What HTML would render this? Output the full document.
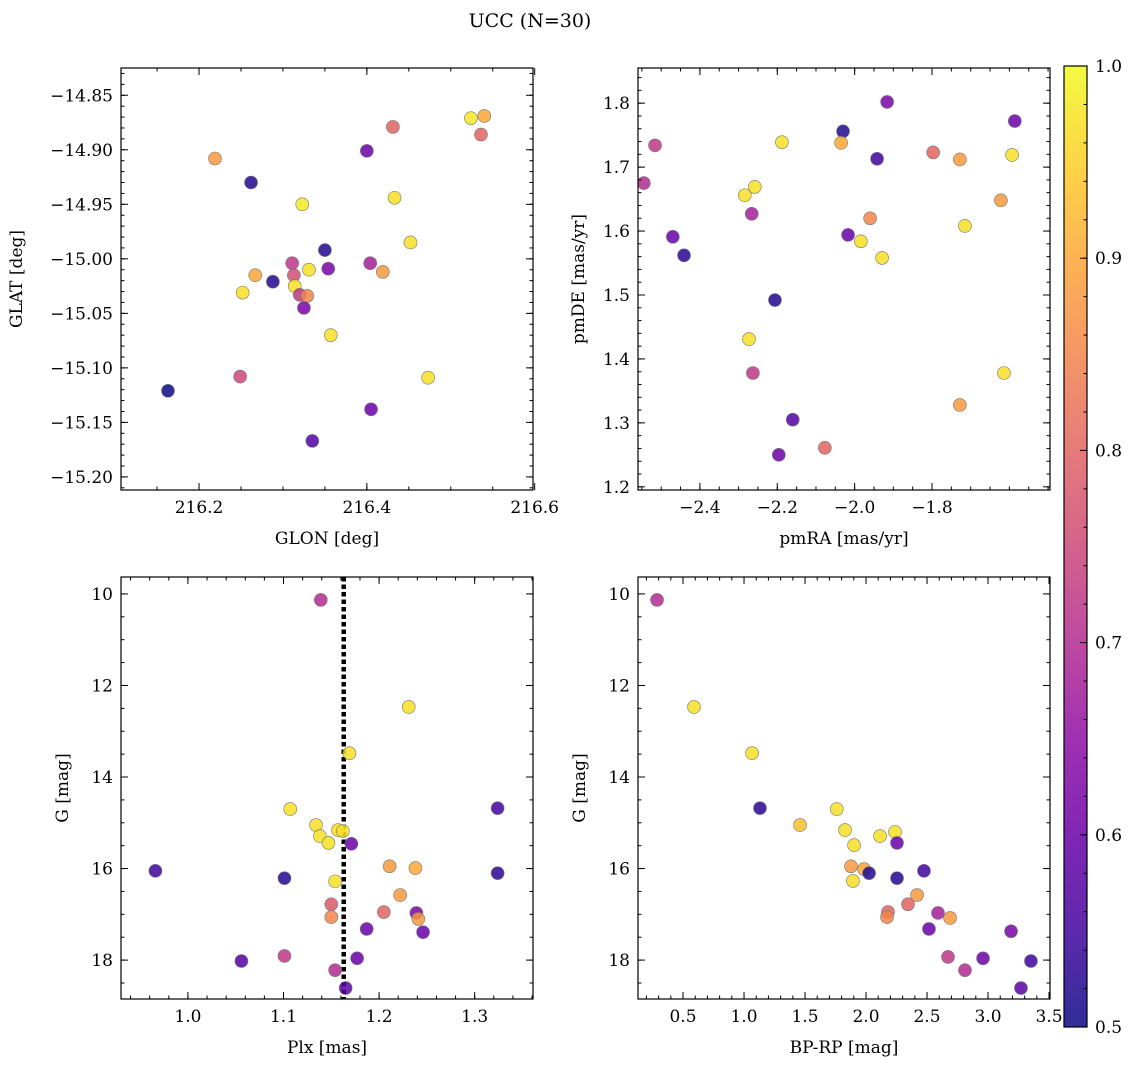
<!DOCTYPE html>
<html><head><meta charset="utf-8"><style>
body{margin:0;background:#fff;}
svg{display:block;font-family:"DejaVu Serif","Liberation Serif",serif;}
</style></head><body>
<svg id="fig" width="1136" height="1067" xmlns="http://www.w3.org/2000/svg">
<defs><linearGradient id="plasma" x1="0" y1="1" x2="0" y2="0">
<stop offset="0" stop-color="#0d0887"/><stop offset="0.1" stop-color="#41049d"/><stop offset="0.2" stop-color="#6a00a8"/><stop offset="0.3" stop-color="#8f0da4"/><stop offset="0.4" stop-color="#b12a90"/><stop offset="0.5" stop-color="#cc4778"/><stop offset="0.6" stop-color="#e16462"/><stop offset="0.7" stop-color="#f2844b"/><stop offset="0.8" stop-color="#fca636"/><stop offset="0.9" stop-color="#fcce25"/><stop offset="1" stop-color="#f0f921"/>
</linearGradient></defs>
<text x="530" y="27" font-size="19" text-anchor="middle">UCC (N=30)</text>
</svg>
<script>
// Panel 1: GLON vs GLAT
const glon=[216.219,216.262,216.323,216.431,216.400,216.524,216.540,216.536,216.433,216.452,216.350,216.311,216.313,216.331,216.354,216.404,216.419,216.267,216.252,216.288,216.314,216.320,216.329,216.325,216.357,216.473,216.163,216.249,216.405,216.335];
const glat=[-14.908,-14.930,-14.950,-14.879,-14.901,-14.871,-14.869,-14.886,-14.944,-14.985,-14.992,-15.004,-15.015,-15.010,-15.009,-15.004,-15.012,-15.015,-15.031,-15.021,-15.025,-15.033,-15.034,-15.045,-15.070,-15.109,-15.121,-15.108,-15.138,-15.167];
const prob1=[0.88,0.52,0.98,0.8,0.6,0.98,0.9,0.8,0.97,0.97,0.52,0.72,0.76,0.97,0.62,0.68,0.88,0.9,0.97,0.52,0.97,0.72,0.85,0.62,0.97,0.97,0.5,0.75,0.6,0.57];
// Panel 2: pmRA vs pmDE
const pmra=[-2.545,-2.516,-2.470,-2.441,-2.284,-2.266,-2.258,-2.273,-2.263,-2.188,-2.206,-2.160,-2.196,-2.077,-2.030,-2.035,-2.017,-1.984,-1.960,-1.942,-1.929,-1.916,-1.797,-1.728,-1.715,-1.622,-1.593,-1.586,-1.614,-1.728];
const pmde=[1.675,1.734,1.591,1.562,1.656,1.627,1.669,1.431,1.378,1.739,1.492,1.305,1.250,1.261,1.756,1.738,1.594,1.584,1.620,1.713,1.558,1.802,1.723,1.712,1.608,1.648,1.719,1.772,1.378,1.328];
const prob2=[0.7,0.72,0.6,0.53,0.97,0.68,0.97,0.97,0.72,0.97,0.52,0.57,0.6,0.8,0.52,0.9,0.6,0.97,0.85,0.55,0.97,0.62,0.8,0.88,0.97,0.88,0.97,0.6,0.97,0.88];
// Panel 3: Plx vs G
const plx=[1.139,1.231,1.169,1.107,1.324,1.134,1.138,1.157,1.162,1.147,1.171,0.966,1.101,1.324,1.211,1.238,1.154,1.222,1.150,1.205,1.239,1.241,1.150,1.187,1.246,1.056,1.101,1.177,1.154,1.165];
const gmag3=[10.13,12.47,13.48,14.70,14.68,15.05,15.29,15.16,15.18,15.44,15.46,16.05,16.21,16.10,15.95,15.99,16.28,16.58,16.78,16.95,16.97,17.10,17.06,17.32,17.39,18.02,17.91,17.96,18.22,18.61];
const prob3=[0.7,0.97,0.97,0.97,0.55,0.97,0.97,0.97,0.97,0.97,0.6,0.55,0.52,0.53,0.88,0.9,0.97,0.88,0.78,0.8,0.62,0.88,0.85,0.6,0.6,0.57,0.72,0.6,0.7,0.58];
const plxLine=1.163;
// Panel 4: BP-RP vs G
const bprp=[0.287,0.590,1.066,1.131,1.760,1.459,1.828,1.902,2.115,2.238,2.254,1.877,1.984,2.025,1.893,2.254,2.475,2.418,2.344,2.180,2.172,2.590,2.689,2.516,3.189,2.672,2.959,2.811,3.352,3.270];
const gmag4=[10.13,12.47,13.48,14.68,14.70,15.05,15.16,15.49,15.29,15.20,15.44,15.95,16.01,16.10,16.27,16.21,16.05,16.58,16.78,16.95,17.06,16.97,17.08,17.32,17.37,17.93,17.96,18.22,18.02,18.61];
const prob4=[0.7,0.97,0.97,0.53,0.97,0.93,0.97,0.97,0.97,0.97,0.6,0.88,0.9,0.52,0.97,0.52,0.55,0.88,0.8,0.8,0.85,0.68,0.88,0.6,0.62,0.72,0.6,0.7,0.55,0.58];
const cbTicks=[0.5,0.6,0.7,0.8,0.9,1.0];

const NS="http://www.w3.org/2000/svg";
const svg=document.getElementById('fig');
function mk(tag,attrs,parent){const e=document.createElementNS(NS,tag);for(const k in attrs)e.setAttribute(k,attrs[k]);(parent||svg).appendChild(e);return e;}
const stops=[[0,[13,8,135]],[0.1,[65,4,157]],[0.2,[106,0,168]],[0.3,[143,13,164]],[0.4,[177,42,144]],[0.5,[204,71,120]],[0.6,[225,100,98]],[0.7,[242,132,75]],[0.8,[252,166,54]],[0.9,[252,206,37]],[1,[240,249,33]]];
function plasma(v){let t=(v-0.5)/0.5;t=Math.max(0,Math.min(1,t));for(let i=1;i<stops.length;i++){if(t<=stops[i][0]){const a=stops[i-1],b=stops[i];const f=(t-a[0])/(b[0]-a[0]);const c=a[1].map((x,j)=>Math.round(x+(b[1][j]-x)*f));return `rgb(${c[0]},${c[1]},${c[2]})`;}}return 'rgb(240,249,33)';}
function fmt(v,d){const s=Math.abs(v).toFixed(d);return (v<-1e-9?'\u2212':'')+s;}

function panel(o){
  const {name,L,T,W,H,x0,x1,y0,y1,xt,yt,xmin,ymin,xd,yd,xlabel,ylabel,xs,ys,cs}=o;
  const g=mk('g',{});
  
  
  const sx=v=>L+(v-x0)/(x1-x0)*W;
  const sy=v=>T+(v-y0)/(y1-y0)*H;
  const clip=mk('clipPath',{id:name+'-clip'},g);mk('rect',{x:L,y:T,width:W,height:H},clip);
  const pts=mk('g',{'clip-path':`url(#${name}-clip)`},g);
  if(o.vline!==undefined){const ln=mk('line',{x1:sx(o.vline),x2:sx(o.vline),y1:T,y2:T+H,stroke:'#000','stroke-width':4.5,'stroke-dasharray':'4.5,3'},pts);
    
    }
  for(let i=0;i<xs.length;i++){const c=mk('circle',{cx:sx(xs[i]),cy:sy(ys[i]),r:6.5,fill:plasma(cs[i]),'fill-opacity':0.85,stroke:'#777','stroke-width':0.6},pts);
    
    }
  mk('rect',{x:L,y:T,width:W,height:H,fill:'none',stroke:'#000','stroke-width':1.2},g);
  const lo=Math.min(x0,x1),hi=Math.max(x0,x1);
  for(let v=Math.ceil(lo/xmin-1e-6)*xmin;v<=hi+1e-9;v+=xmin){const X=sx(v);mk('line',{x1:X,x2:X,y1:T+H,y2:T+H-3.5,stroke:'#000'},g);mk('line',{x1:X,x2:X,y1:T,y2:T+3.5,stroke:'#000'},g);}
  const ylo=Math.min(y0,y1),yhi=Math.max(y0,y1);
  for(let v=Math.ceil(ylo/ymin-1e-6)*ymin;v<=yhi+1e-9;v+=ymin){const Y=sy(v);mk('line',{x1:L,x2:L+3.5,y1:Y,y2:Y,stroke:'#000'},g);mk('line',{x1:L+W,x2:L+W-3.5,y1:Y,y2:Y,stroke:'#000'},g);}
  xt.forEach(v=>{const X=sx(v);mk('line',{x1:X,x2:X,y1:T+H,y2:T+H-7,stroke:'#000'},g);mk('line',{x1:X,x2:X,y1:T,y2:T+7,stroke:'#000'},g);
    const t=mk('text',{x:X,y:T+H+23,'font-size':17,'text-anchor':'middle'},g);t.textContent=fmt(v,xd);
    
    });
  yt.forEach(v=>{const Y=sy(v);mk('line',{x1:L,x2:L+7,y1:Y,y2:Y,stroke:'#000'},g);mk('line',{x1:L+W,x2:L+W-7,y1:Y,y2:Y,stroke:'#000'},g);
    const t=mk('text',{x:L-8,y:Y+6,'font-size':17,'text-anchor':'end'},g);t.textContent=fmt(v,yd);
    
    });
  const xl=mk('text',{x:L+W/2,y:T+H+54,'font-size':17,'text-anchor':'middle'},g);xl.textContent=xlabel;
  
  
  const yl=mk('text',{x:0,y:0,'font-size':17,'text-anchor':'middle',transform:`translate(${o.ylx},${T+H/2}) rotate(-90)`},g);yl.textContent=ylabel;
  
  
}
panel({name:'glon-glat-panel',L:121,T:68,W:412,H:422,x0:216.107,x1:216.598,y0:-14.825,y1:-15.212,xt:[216.2,216.4,216.6],yt:[-14.85,-14.9,-14.95,-15,-15.05,-15.1,-15.15,-15.2],xmin:0.05,ymin:0.01,xd:1,yd:2,xlabel:'GLON [deg]',ylabel:'GLAT [deg]',ylx:22,xs:glon,ys:glat,cs:prob1});
panel({name:'proper-motion-panel',L:638,T:68,W:412,H:422,x0:-2.560,x1:-1.495,y0:1.855,y1:1.195,xt:[-2.4,-2.2,-2.0,-1.8],yt:[1.2,1.3,1.4,1.5,1.6,1.7,1.8],xmin:0.05,ymin:0.02,xd:1,yd:1,xlabel:'pmRA [mas/yr]',ylabel:'pmDE [mas/yr]',ylx:584,xs:pmra,ys:pmde,cs:prob2});
panel({name:'plx-g-panel',L:121,T:577,W:412,H:422,x0:0.930,x1:1.361,y0:9.63,y1:18.85,xt:[1.0,1.1,1.2,1.3],yt:[10,12,14,16,18],xmin:0.02,ymin:0.5,xd:1,yd:0,xlabel:'Plx [mas]',ylabel:'G [mag]',ylx:68,xs:plx,ys:gmag3,cs:prob3,vline:plxLine});
panel({name:'cmd-panel',L:638,T:577,W:412,H:422,x0:0.131,x1:3.508,y0:9.63,y1:18.85,xt:[0.5,1.0,1.5,2.0,2.5,3.0,3.5],yt:[10,12,14,16,18],xmin:0.1,ymin:0.5,xd:1,yd:0,xlabel:'BP-RP [mag]',ylabel:'G [mag]',ylx:585,xs:bprp,ys:gmag4,cs:prob4});
// colorbar
const cb=mk('g',{});


mk('rect',{x:1064,y:66,width:23,height:961,fill:'url(#plasma)','fill-opacity':0.85},cb);
mk('rect',{x:1064,y:66,width:23,height:961,fill:'none',stroke:'#000','stroke-width':1.2},cb);
const cy=v=>1027-(v-0.5)/0.5*961;
for(let v=0.5;v<=1.0001;v+=0.02){mk('line',{x1:1087,x2:1083.5,y1:cy(v),y2:cy(v),stroke:'#000'},cb);}
cbTicks.forEach(v=>{mk('line',{x1:1087,x2:1080,y1:cy(v),y2:cy(v),stroke:'#000'},cb);
  const t=mk('text',{x:1095,y:cy(v)+6,'font-size':17},cb);t.textContent=v.toFixed(1);
  
  });
</script>
</body></html>
